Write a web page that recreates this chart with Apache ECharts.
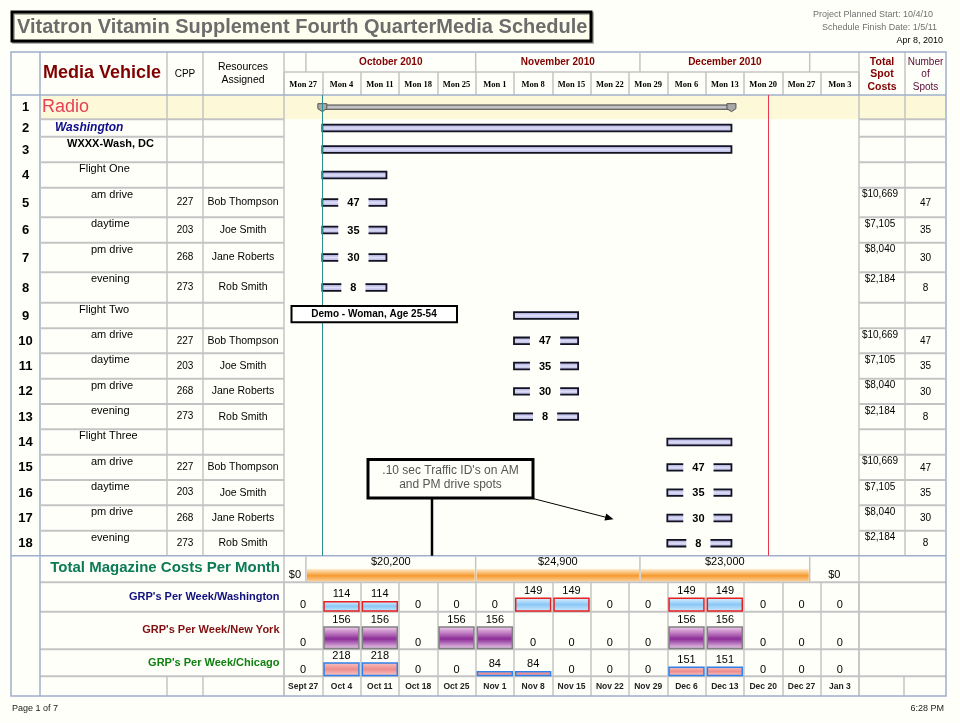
<!DOCTYPE html>
<html>
<head>
<meta charset="utf-8">
<script src="https://cdn.jsdelivr.net/npm/echarts/dist/echarts.min.js"></script>
<style>
html,body{margin:0;padding:0;background:#fffffa;}
#chart{width:960px;height:723px;}
</style>
</head>
<body>
<div id="chart"></div>
<script>
// ================= DATA =================
const vehicles = ['Radio','Washington','WXXX-Wash, DC','Flight One','am drive','daytime','pm drive','evening',
  'Flight Two','am drive','daytime','pm drive','evening','Flight Three','am drive','daytime','pm drive','evening'];
const vehicleLevel = ['media','market','station','flight','daypart','daypart','daypart','daypart',
  'flight','daypart','daypart','daypart','daypart','flight','daypart','daypart','daypart','daypart'];
const cpp = ['','','','','227','203','268','273','','227','203','268','273','','227','203','268','273'];
const resources = ['','','','','Bob Thompson','Joe Smith','Jane Roberts','Rob Smith','',
  'Bob Thompson','Joe Smith','Jane Roberts','Rob Smith','','Bob Thompson','Joe Smith','Jane Roberts','Rob Smith'];
const totalSpotCosts = ['','','','','$10,669','$7,105','$8,040','$2,184','',
  '$10,669','$7,105','$8,040','$2,184','','$10,669','$7,105','$8,040','$2,184'];
const numberOfSpots = ['','','','','47','35','30','8','','47','35','30','8','','47','35','30','8'];
const taskStart = ['2010-10-04','2010-10-04','2010-10-04','2010-10-04','2010-10-04','2010-10-04','2010-10-04','2010-10-04',
  '2010-11-08','2010-11-08','2010-11-08','2010-11-08','2010-11-08',
  '2010-12-06','2010-12-06','2010-12-06','2010-12-06','2010-12-06'];
const taskEnd = ['2010-12-17T17:00','2010-12-17T17:00','2010-12-17T17:00','2010-10-15T17:00','2010-10-15T17:00','2010-10-15T17:00','2010-10-15T17:00','2010-10-15T17:00',
  '2010-11-19T17:00','2010-11-19T17:00','2010-11-19T17:00','2010-11-19T17:00','2010-11-19T17:00',
  '2010-12-17T17:00','2010-12-17T17:00','2010-12-17T17:00','2010-12-17T17:00','2010-12-17T17:00'];
const scheduleStart = '2010-09-27';
const scheduleEnd = '2011-01-10';
const projectStartLine = '2010-10-04';
const currentDateLine = '2010-12-24T10:30';
const weekHeaderLabels = ['Mon 27','Mon 4','Mon 11','Mon 18','Mon 25','Mon 1','Mon 8','Mon 15','Mon 22','Mon 29','Mon 6','Mon 13','Mon 20','Mon 27','Mon 3'];
const weekDateLabels = ['Sept 27','Oct 4','Oct 11','Oct 18','Oct 25','Nov 1','Nov 8','Nov 15','Nov 22','Nov 29','Dec 6','Dec 13','Dec 20','Dec 27','Jan 3'];
const monthStarts = ['2010-09-27','2010-10-01','2010-11-01','2010-12-01','2011-01-01'];
const monthHeaderLabels = ['','October 2010','November 2010','December 2010',''];
const magazineCosts = [0, 20200, 24900, 23000, 0];
const grpWashington = [0,114,114,0,0,0,149,149,0,0,149,149,0,0,0];
const grpNewYork    = [0,156,156,0,156,156,0,0,0,0,156,156,0,0,0];
const grpChicago    = [0,218,218,0,0,84,84,0,0,0,151,151,0,0,0];

// ================= LAYOUT =================
const FONT = "'Liberation Sans', Arial, sans-serif";
const SERIF = "'Liberation Serif', 'DejaVu Serif', serif";
const COL = {num:11, veh:40, cpp:167, res:203, gantt:284, cost:859, spots:905, end:946};
const Y = {top:52, hdrMid:72, hdrBot:95, bodyBot:555.7, mag:582.3, wash:611.7, ny:649.3, chi:676.3, bottom:696};
const ROW_H = [24.3,17.4,25.6,25.4,29.6,25.4,29.6,30.4,25.6,25,25.4,25.3,25.3,25.4,25.3,25.3,25.4,25.0];
const ROW_TOP = [];
ROW_H.reduce((acc,h,i)=>{ROW_TOP[i]=acc; return acc+h;},0);
const BODY_H = ROW_H.reduce((a,b)=>a+b,0);
const GANTT_W = COL.cost - COL.gantt;
const GRID_LINE = '#c4c4c4';
const BLUE_LINE = '#9fb0cc';
const BG = '#fffffa';

function txt(x, y, text, o) {
  o = o || {};
  const st = {text: text, fill: o.color || '#000', fontSize: o.size || 10, fontWeight: o.weight || 'normal',
    fontStyle: o.fstyle || 'normal', fontFamily: o.family || FONT, align: o.align || 'left', verticalAlign: o.va || 'middle'};
  if (o.bg) { st.backgroundColor = o.bg; st.padding = o.pad || 0; }
  return {type:'text', x:x, y:y, silent:true, z: o.z == null ? 50 : o.z, z2: o.z2 == null ? 10 : o.z2, style: st};
}
function ln(x1,y1,x2,y2,color,w,z) {
  return {type:'line', silent:true, z: z == null ? 1 : z, shape:{x1,y1,x2,y2}, style:{stroke:color, lineWidth:w||1.5}};
}

// ================= STATIC GRAPHICS (table frame, headers, notes) =================
const graphics = [];
graphics.push({type:'rect', silent:true, z:0, shape:{x:COL.veh, y:Y.hdrBot, width:COL.end-COL.veh, height:ROW_H[0]}, style:{fill:'#fcf8d8'}});
graphics.push({type:'rect', silent:true, z:5, shape:{x:12, y:12, width:579, height:29},
  style:{fill:'#fffff0', stroke:'#000', lineWidth:3, shadowColor:'rgba(0,0,0,0.3)', shadowOffsetX:1.5, shadowOffsetY:1.5}});
graphics.push(txt(17, 27, 'Vitatron Vitamin Supplement Fourth QuarterMedia Schedule', {size:20, weight:'bold', color:'#6c6c6c'}));
graphics.push(txt(933, 15, 'Project Planned Start: 10/4/10', {size:9, color:'#707070', align:'right'}));
graphics.push(txt(937, 28, 'Schedule Finish Date: 1/5/11', {size:9, color:'#707070', align:'right'}));
graphics.push(txt(943, 41, 'Apr 8, 2010', {size:9, color:'#000', align:'right'}));
graphics.push(txt(12, 709, 'Page 1 of 7', {size:9, color:'#222'}));
graphics.push(txt(944, 709, '6:28 PM', {size:9, color:'#222', align:'right'}));
graphics.push(txt(43, 73, 'Media Vehicle', {size:18, weight:'bold', color:'#800000'}));
graphics.push(txt(185, 74, 'CPP', {size:10, align:'center'}));
graphics.push(txt(243, 67.5, 'Resources', {size:10.5, align:'center'}));
graphics.push(txt(243, 80, 'Assigned', {size:10.5, align:'center'}));
['Total','Spot','Costs'].forEach((t,k)=>graphics.push(txt(882, 62+k*12.4, t, {size:10.5, weight:'bold', color:'#800000', align:'center'})));
['Number','of','Spots'].forEach((t,k)=>graphics.push(txt(925.5, 62+k*12.4, t, {size:10, color:'#5a0a36', align:'center'})));
graphics.push(txt(280, 568, 'Total Magazine Costs Per Month', {size:15, weight:'bold', color:'#0b7b55', align:'right'}));
graphics.push(txt(279.5, 597, "GRP's Per Week/Washington", {size:11, weight:'bold', color:'#10107e', align:'right'}));
graphics.push(txt(279.5, 630, "GRP's Per Week/New York", {size:11, weight:'bold', color:'#801010', align:'right'}));
graphics.push(txt(279.5, 663, "GRP's Per Week/Chicago", {size:11, weight:'bold', color:'#108010', align:'right'}));
graphics.push(ln(COL.cpp, Y.top, COL.cpp, Y.bodyBot, GRID_LINE));
graphics.push(ln(COL.res, Y.top, COL.res, Y.bodyBot, GRID_LINE));
graphics.push(ln(COL.cpp, Y.chi, COL.cpp, Y.bottom, GRID_LINE));
graphics.push(ln(COL.res, Y.chi, COL.res, Y.bottom, GRID_LINE));
graphics.push(ln(COL.gantt, Y.top, COL.gantt, Y.bottom, GRID_LINE));
graphics.push(ln(COL.cost, Y.top, COL.cost, Y.bottom, GRID_LINE));
graphics.push(ln(COL.spots, Y.top, COL.spots, Y.bodyBot, GRID_LINE));
graphics.push(ln(COL.spots-1, Y.chi, COL.spots-1, Y.bottom, GRID_LINE));
graphics.push(ln(COL.gantt, Y.hdrMid, COL.cost, Y.hdrMid, GRID_LINE));
[Y.mag, Y.wash, Y.ny, Y.chi].forEach(y=>graphics.push(ln(COL.veh, y, COL.end, y, GRID_LINE, 2)));
graphics.push(ln(COL.num, Y.hdrBot, COL.end, Y.hdrBot, BLUE_LINE, 1.5, 2));
graphics.push(ln(COL.num, Y.bodyBot, COL.end, Y.bodyBot, BLUE_LINE, 1.5, 2));
graphics.push(ln(COL.veh, Y.top, COL.veh, Y.bottom, BLUE_LINE, 1.5, 2));
graphics.push({type:'rect', silent:true, z:2, shape:{x:COL.num, y:Y.top, width:COL.end-COL.num, height:Y.bottom-Y.top}, style:{fill:null, stroke:BLUE_LINE, lineWidth:1.5}});
graphics.push({type:'rect', silent:true, z:60, shape:{x:291.5, y:306, width:165.5, height:16.3}, style:{fill:'#ffffff', stroke:'#000', lineWidth:2}});
graphics.push(txt(374, 314.3, 'Demo - Woman, Age 25-54', {size:10, weight:'bold', align:'center', z:61}));
graphics.push({type:'rect', silent:true, z:60, shape:{x:368, y:459.5, width:165, height:38.5}, style:{fill:BG, stroke:'#000', lineWidth:3}});
graphics.push(txt(450.5, 470.5, ".10 sec Traffic ID's on AM", {size:12, color:'#555', align:'center', z:61}));
graphics.push(txt(450.5, 484.5, 'and PM drive spots', {size:12, color:'#555', align:'center', z:61}));
graphics.push(ln(432, 499, 432, Y.bodyBot, '#000', 2.5, 59));
graphics.push(ln(533, 498.5, 606, 517.3, '#000', 1, 59));
graphics.push({type:'polygon', silent:true, z:59, shape:{points:[[613.5,519.3],[604.4,520.6],[606.3,513.4]]}, style:{fill:'#000'}});

// ================= SERIES =================
function rowY(api, v) { return api.coord([api.value(0), v])[1]; }

const tableSeries = {
  type:'custom', name:'table', xAxisIndex:0, yAxisIndex:0, silent:true, clip:false, z:3,
  data: vehicles.map((_, i) => [scheduleStart, i]),
  encode: {x:0, y:1},
  renderItem: function (params, api) {
    const i = params.dataIndex;
    const top = rowY(api, ROW_TOP[i]);
    const mid = rowY(api, ROW_TOP[i] + ROW_H[i] / 2);
    const bot = rowY(api, ROW_TOP[i] + ROW_H[i]);
    const ch = [];
    ch.push(txt(25.5, mid + 0.5, String(i + 1), {size:13, weight:'bold', align:'center'}));
    const lvl = vehicleLevel[i];
    if (lvl === 'media') ch.push(txt(42, mid, vehicles[i], {size:18, color:'#e6405a'}));
    else if (lvl === 'market') ch.push(txt(55, mid, vehicles[i], {size:12, weight:'bold', fstyle:'italic', color:'#0c0c8a'}));
    else if (lvl === 'station') ch.push(txt(67, top + 7, vehicles[i], {size:11, weight:'bold'}));
    else if (lvl === 'flight') ch.push(txt(79, top + 7, vehicles[i], {size:11}));
    else ch.push(txt(91, top + 7, vehicles[i], {size:11}));
    if (cpp[i]) ch.push(txt(185, mid, cpp[i], {size:10, align:'center'}));
    if (resources[i]) ch.push(txt(243, mid, resources[i], {size:10.5, align:'center'}));
    if (totalSpotCosts[i]) ch.push(txt(880, top + 7, totalSpotCosts[i], {size:10, align:'center'}));
    if (numberOfSpots[i]) ch.push(txt(925.5, mid + 0.5, numberOfSpots[i], {size:10, align:'center'}));
    if (i < vehicles.length - 1) {
      ch.push(ln(COL.veh, bot, COL.gantt, bot, GRID_LINE, 2));
      ch.push(ln(COL.cost, bot, COL.end, bot, GRID_LINE, 2));
    }
    return {type:'group', children: ch};
  }
};

const barFill = new echarts.graphic.LinearGradient(0,0,0,1,[
  {offset:0, color:'#8e8ed2'},{offset:0.5, color:'#dedef6'},{offset:1, color:'#a0a0dc'}]);
const summaryFill = new echarts.graphic.LinearGradient(0,0,0,1,[
  {offset:0, color:'#8a8a8a'},{offset:0.5, color:'#cfcfcf'},{offset:1, color:'#8a8a8a'}]);

const ganttSeries = {
  type:'custom', name:'schedule', xAxisIndex:0, yAxisIndex:0, silent:true, clip:false, z:4,
  data: taskStart.map((s, i) => [s, taskEnd[i], i]),
  encode: {x:[0,1], y:2},
  renderItem: function (params, api) {
    const i = api.value(2);
    const x0 = api.coord([api.value(0), 0])[0];
    const x1 = api.coord([api.value(1), 0])[0];
    const yc = rowY(api, ROW_TOP[i] + ROW_H[i] / 2);
    const ch = [];
    if (i === 0) {
      ch.push({type:'rect', shape:{x:x0, y:yc-2.2, width:x1-x0, height:4.4}, style:{fill:summaryFill, stroke:'#555', lineWidth:1}});
      [x0, x1].forEach(x => ch.push({type:'polygon', shape:{points:[[x-4.5,yc-3.5],[x+4.5,yc-3.5],[x+4.5,yc+1.5],[x,yc+4.5],[x-4.5,yc+1.5]]},
        style:{fill:'#a8a8a8', stroke:'#555', lineWidth:1}}));
    } else {
      ch.push({type:'rect', shape:{x:x0, y:yc-3.3, width:x1-x0, height:6.6}, style:{fill:barFill, stroke:'#121220', lineWidth:1.8}});
      if (vehicleLevel[i] === 'daypart' && numberOfSpots[i]) {
        ch.push(txt((x0 + x1) / 2 - 1, yc + 0.5, numberOfSpots[i], {size:11, weight:'bold', align:'center', bg:BG, pad:[1,9]}));
      }
    }
    return {type:'group', children: ch};
  },
  markLine: {
    silent:true, symbol:'none', label:{show:false}, animation:false,
    data:[
      {xAxis: projectStartLine, lineStyle:{color:'#2a8c8c', width:1, type:'solid'}},
      {xAxis: currentDateLine, lineStyle:{color:'#e8384f', width:1, type:'solid'}}
    ]
  }
};

const monthEnds = monthStarts.slice(1).concat([scheduleEnd]);
const monthHeaderSeries = {
  type:'custom', name:'months', xAxisIndex:0, yAxisIndex:0, silent:true, clip:false, z:3,
  data: monthStarts.map((s, i) => [s, monthEnds[i], 0]),
  encode: {x:[0,1], y:2},
  renderItem: function (params, api) {
    const x0 = api.coord([api.value(0), 0])[0];
    const x1 = api.coord([api.value(1), 0])[0];
    const ch = [];
    if (params.dataIndex > 0) ch.push(ln(x0, Y.top, x0, Y.hdrMid, GRID_LINE));
    const lab = monthHeaderLabels[params.dataIndex];
    if (lab) ch.push(txt((x0 + x1) / 2, 62.5, lab, {size:10, weight:'bold', color:'#800000', align:'center'}));
    return {type:'group', children: ch};
  }
};

const orangeFill = new echarts.graphic.LinearGradient(0,0,0,1,[
  {offset:0, color:'#ffeccc'},{offset:0.55, color:'#f69a30'},{offset:1, color:'#fbcf96'}]);
const magazineSeries = {
  type:'custom', name:'Total Magazine Costs', xAxisIndex:2, yAxisIndex:1, silent:true, clip:false, z:4,
  data: monthStarts.map((s, i) => [s, monthEnds[i], magazineCosts[i]]),
  encode: {x:[0,1], y:2},
  renderItem: function (params, api) {
    const x0 = api.coord([api.value(0), 0])[0];
    const x1 = api.coord([api.value(1), 0])[0];
    const yTop = api.coord([api.value(0), 1])[1];
    const yBot = api.coord([api.value(0), 0])[1];
    const v = magazineCosts[params.dataIndex];
    const ch = [];
    if (params.dataIndex > 0) ch.push(ln(x0, yTop, x0, yBot, GRID_LINE));
    if (v > 0) {
      const b0 = api.coord([api.value(0), 0.5])[1];
      const b1 = api.coord([api.value(0), 0.04])[1];
      ch.push({type:'rect', shape:{x:x0+1, y:b0, width:x1-x0-2, height:b1-b0}, style:{fill:orangeFill}});
      ch.push(txt((x0 + x1) / 2, api.coord([api.value(0), 0.75])[1], '$' + v.toLocaleString('en-US'), {size:11, align:'center'}));
    } else {
      ch.push(txt((x0 + x1) / 2, api.coord([api.value(0), 0.26])[1], '$0', {size:11, align:'center'}));
    }
    return {type:'group', children: ch};
  }
};

function grad(stops) { return new echarts.graphic.LinearGradient(0,0,0,1, stops.map(s=>({offset:s[0], color:s[1]}))); }
function grpSeries(name, values, xi, yi, fill, border) {
  return {
    type:'bar', name:name, xAxisIndex:xi, yAxisIndex:yi, barCategoryGap:'5%', silent:true, animation:false,
    data: values.map(v => v === 0 ? {value:0, itemStyle:{borderWidth:0}} : v),
    itemStyle: {color: fill, borderColor: border, borderWidth: 1.5},
    label: {show:true, position:'top', distance:1, fontSize:11, color:'#000', fontFamily:FONT}
  };
}

const gridBase = {containLabel:false, outerBoundsMode:'none'};
const option = {
  backgroundColor: BG,
  animation: false,
  textStyle: {fontFamily: FONT},
  grid: [
    Object.assign({left:COL.gantt, top:Y.hdrBot, width:GANTT_W, height:BODY_H}, gridBase),
    Object.assign({left:COL.gantt, top:Y.bodyBot, width:GANTT_W, height:Y.mag-Y.bodyBot}, gridBase),
    Object.assign({left:COL.gantt, top:Y.mag, width:GANTT_W, height:Y.wash-Y.mag}, gridBase),
    Object.assign({left:COL.gantt, top:Y.wash, width:GANTT_W, height:Y.ny-Y.wash}, gridBase),
    Object.assign({left:COL.gantt, top:Y.ny, width:GANTT_W, height:Y.chi-Y.ny}, gridBase)
  ],
  xAxis: [
    {type:'time', gridIndex:0, min:scheduleStart, max:scheduleEnd, show:false},
    {type:'category', gridIndex:0, position:'top', data:weekHeaderLabels,
      axisLine:{show:false}, splitLine:{show:false},
      axisTick:{show:true, interval:0, length:23, lineStyle:{color:GRID_LINE, width:1.5}},
      axisLabel:{interval:0, margin:6, fontSize:8.5, fontWeight:'bold', fontFamily:SERIF, color:'#000'}},
    {type:'time', gridIndex:1, min:scheduleStart, max:scheduleEnd, show:false},
    {type:'category', gridIndex:2, data:weekDateLabels, axisLine:{show:false}, axisTick:{show:false}, axisLabel:{show:false},
      splitLine:{show:true, interval:0, lineStyle:{color:GRID_LINE, width:1.5}}},
    {type:'category', gridIndex:3, data:weekDateLabels, axisLine:{show:false}, axisTick:{show:false}, axisLabel:{show:false},
      splitLine:{show:true, interval:0, lineStyle:{color:GRID_LINE, width:1.5}}},
    {type:'category', gridIndex:4, data:weekDateLabels, axisLine:{show:false},
      axisTick:{show:true, interval:0, length:Y.bottom-Y.chi, lineStyle:{color:GRID_LINE, width:1.5}},
      axisLabel:{interval:0, margin:5.5, fontSize:8.5, fontWeight:'bold', color:'#222', fontFamily:FONT},
      splitLine:{show:true, interval:0, lineStyle:{color:GRID_LINE, width:1.5}}}
  ],
  yAxis: [
    {type:'value', gridIndex:0, min:0, max:BODY_H, inverse:true, show:false},
    {type:'value', gridIndex:1, min:0, max:1, show:false},
    {type:'value', gridIndex:2, min:0, max:310, show:false},
    {type:'value', gridIndex:3, min:0, max:255, show:false},
    {type:'value', gridIndex:4, min:0, max:420, show:false}
  ],
  graphic: graphics,
  series: [
    tableSeries,
    monthHeaderSeries,
    ganttSeries,
    magazineSeries,
    grpSeries("GRP's Per Week/Washington", grpWashington, 3, 2,
      grad([[0,'#e2f2ff'],[0.5,'#8ac8f6'],[1,'#d4ecfc']]), '#e62020'),
    grpSeries("GRP's Per Week/New York", grpNewYork, 4, 3,
      grad([[0,'#f3d6ef'],[0.35,'#b56ab9'],[0.55,'#8a2c96'],[0.8,'#c48bc8'],[1,'#f0d4ec']]), '#808080'),
    grpSeries("GRP's Per Week/Chicago", grpChicago, 5, 4,
      grad([[0,'#f7c4c4'],[0.5,'#ef8c8c'],[1,'#f8cccc']]), '#2f80e8')
  ]
};

const chart = echarts.init(document.getElementById('chart'), null, {renderer:'canvas'});
chart.setOption(option);
</script>
</body>
</html>
